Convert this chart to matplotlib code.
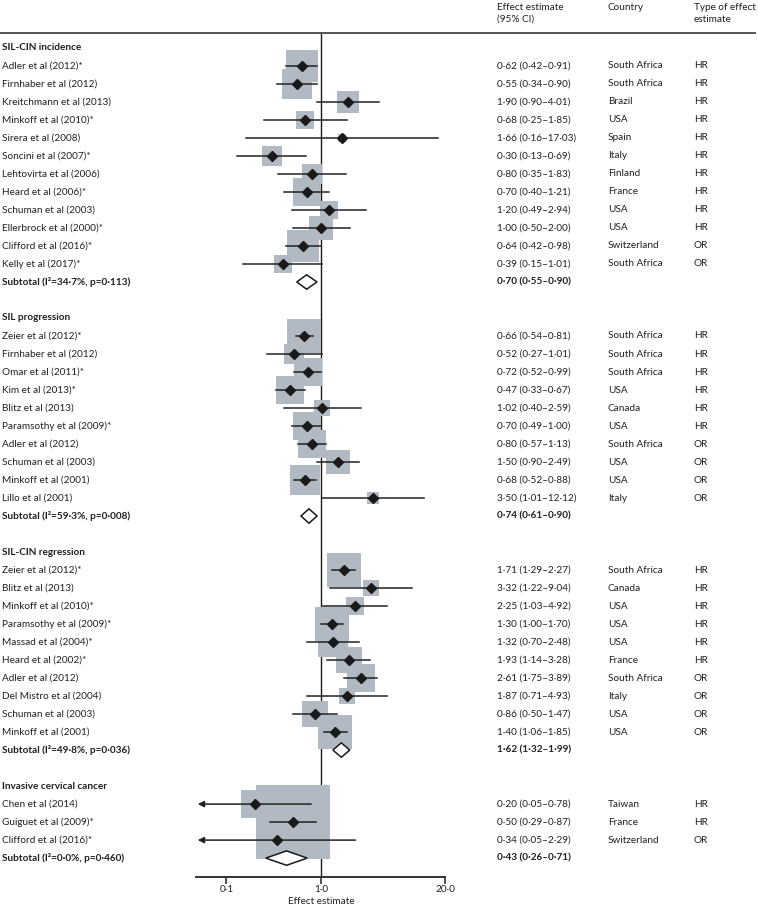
import matplotlib
matplotlib.use("Agg")
import matplotlib.pyplot as plt
from matplotlib.lines import Line2D
from matplotlib.patches import Polygon
from matplotlib.transforms import blended_transform_factory
import numpy as np

plt.rcParams['font.family'] = ['Lato', 'DejaVu Sans']

# ---- data ----
group_titles = ["SIL-CIN incidence", "SIL progression", "SIL-CIN regression", "Invasive cervical cancer"]

inc_names = ["Adler et al (2012)*", "Firnhaber et al (2012)", "Kreitchmann et al (2013)", "Minkoff et al (2010)*",
             "Sirera et al (2008)", "Soncini et al (2007)*", "Lehtovirta et al (2006)", "Heard et al (2006)*",
             "Schuman et al (2003)", "Ellerbrock et al (2000)*", "Clifford et al (2016)*", "Kelly et al (2017)*"]
inc_est = [0.62, 0.55, 1.90, 0.68, 1.66, 0.30, 0.80, 0.70, 1.20, 1.00, 0.64, 0.39]
inc_lo = [0.42, 0.34, 0.90, 0.25, 0.16, 0.13, 0.35, 0.40, 0.49, 0.50, 0.42, 0.15]
inc_hi = [0.91, 0.90, 4.01, 1.85, 17.03, 0.69, 1.83, 1.21, 2.94, 2.00, 0.98, 1.01]
inc_country = ["South Africa", "South Africa", "Brazil", "USA", "Spain", "Italy", "Finland", "France",
               "USA", "USA", "Switzerland", "South Africa"]
inc_type = ["HR"] * 10 + ["OR"] * 2
inc_weight = [10.2, 9.0, 4.8, 3.2, 0.5, 4.4, 4.4, 8.4, 3.6, 5.3, 10.2, 3.2]
inc_sub = (0.70, 0.55, 0.90)
inc_i2, inc_p = "34·7%", "0·113"

prog_names = ["Zeier et al (2012)*", "Firnhaber et al (2012)", "Omar et al (2011)*", "Kim et al (2013)*",
              "Blitz et al (2013)", "Paramsothy et al (2009)*", "Adler et al (2012)", "Schuman et al (2003)",
              "Minkoff et al (2001)", "Lillo et al (2001)"]
prog_est = [0.66, 0.52, 0.72, 0.47, 1.02, 0.70, 0.80, 1.50, 0.68, 3.50]
prog_lo = [0.54, 0.27, 0.52, 0.33, 0.40, 0.49, 0.57, 0.90, 0.52, 1.01]
prog_hi = [0.81, 1.01, 0.99, 0.67, 2.59, 1.00, 1.13, 2.49, 0.88, 12.12]
prog_country = ["South Africa", "South Africa", "South Africa", "USA", "Canada", "USA", "South Africa",
                "USA", "USA", "Italy"]
prog_type = ["HR"] * 6 + ["OR"] * 4
prog_weight = [10.9, 4.0, 8.4, 7.8, 2.6, 8.4, 7.8, 5.8, 9.6, 1.4]
prog_sub = (0.74, 0.61, 0.90)
prog_i2, prog_p = "59·3%", "0·008"

reg_names = ["Zeier et al (2012)*", "Blitz et al (2013)", "Minkoff et al (2010)*", "Paramsothy et al (2009)*",
             "Massad et al (2004)*", "Heard et al (2002)*", "Adler et al (2012)", "Del Mistro et al (2004)",
             "Schuman et al (2003)", "Minkoff et al (2001)"]
reg_est = [1.71, 3.32, 2.25, 1.30, 1.32, 1.93, 2.61, 1.87, 0.86, 1.40]
reg_lo = [1.29, 1.22, 1.03, 1.00, 0.70, 1.14, 1.75, 0.71, 0.50, 1.06]
reg_hi = [2.27, 9.04, 4.92, 1.70, 2.48, 3.28, 3.89, 4.93, 1.47, 1.85]
reg_country = ["South Africa", "Canada", "USA", "USA", "USA", "France", "South Africa", "Italy", "USA", "USA"]
reg_type = ["HR"] * 6 + ["OR"] * 4
reg_weight = [10.9, 2.3, 3.6, 11.6, 9.6, 6.3, 8.4, 2.6, 6.3, 10.9]
reg_sub = (1.62, 1.32, 1.99)
reg_i2, reg_p = "49·8%", "0·036"

inv_names = ["Chen et al (2014)", "Guiguet et al (2009)*", "Clifford et al (2016)*"]
inv_est = [0.20, 0.50, 0.34]
inv_lo = [0.05, 0.29, 0.05]
inv_hi = [0.78, 0.87, 2.29]
inv_country = ["Taiwan", "France", "Switzerland"]
inv_type = ["HR", "HR", "OR"]
inv_weight = [8.4, 53.3, 8.0]
inv_sub = (0.43, 0.26, 0.71)
inv_i2, inv_p = "0·0%", "0·460"

groups = [
    (inc_names, inc_est, inc_lo, inc_hi, inc_country, inc_type, inc_weight, inc_sub, inc_i2, inc_p),
    (prog_names, prog_est, prog_lo, prog_hi, prog_country, prog_type, prog_weight, prog_sub, prog_i2, prog_p),
    (reg_names, reg_est, reg_lo, reg_hi, reg_country, reg_type, reg_weight, reg_sub, reg_i2, reg_p),
    (inv_names, inv_est, inv_lo, inv_hi, inv_country, inv_type, inv_weight, inv_sub, inv_i2, inv_p),
]

x_ticks = [0.1, 1.0, 20.0]
x_tick_labels = ["0·1", "1·0", "20·0"]


def fmt_ci(e, l, h):
    return f"{e:.2f} ({l:.2f}–{h:.2f})".replace(".", "·")


# ---- layout ----
W, H = 758, 908
fig = plt.figure(figsize=(W / 100, H / 100), dpi=100)
ax = fig.add_axes([196 / W, 1 - 877 / H, 249 / W, (877 - 33) / H])
ax.set_xscale("log")
ax.set_xlim(0.0479, 20)

TXT = "#231f20"
SQ = "#b1bac2"
FS = 7.2
trans = blended_transform_factory(fig.transFigure, ax.transData)
col_ci, col_country, col_type = 497 / W, 608 / W, 694 / W

row = 0
for gi, (names, est, lo, hi, country, typ, weight, sub, i2, p) in enumerate(groups):
    ax.text(2 / W, row, group_titles[gi], transform=trans, va="center", ha="left", fontsize=FS,
            fontweight="bold", color=TXT)
    for k in range(len(names)):
        r = row + 1 + k
        side = 10 * np.sqrt(weight[k]) * 0.72  # px -> pt
        ax.plot(est[k], r, marker="s", markersize=side, color=SQ, markeredgewidth=0, zorder=2)
        if lo[k] <= 0.05:
            # CI runs off the left edge -> arrow
            ax.annotate("", xy=(lo[k], r), xytext=(hi[k], r),
                        arrowprops=dict(arrowstyle="-|>", mutation_scale=9, lw=1.1, color="#222222",
                                        shrinkA=0, shrinkB=0), zorder=3)
        else:
            ax.plot([lo[k], hi[k]], [r, r], color="#222222", lw=1.1, zorder=3)
        ax.plot(est[k], r, marker="D", markersize=5.2, color="#1a1a1a", zorder=4)
        ax.text(2 / W, r, names[k], transform=trans, va="center", ha="left", fontsize=FS, color=TXT)
        ax.text(col_ci, r, fmt_ci(est[k], lo[k], hi[k]), transform=trans, va="center", fontsize=FS, color=TXT)
        ax.text(col_country, r, country[k], transform=trans, va="center", fontsize=FS, color=TXT)
        ax.text(col_type, r, typ[k], transform=trans, va="center", fontsize=FS, color=TXT)
    r = row + len(names) + 1
    e, l, h = sub
    dh = 0.4
    ax.add_patch(Polygon([(l, r), (e, r - dh), (h, r), (e, r + dh)], closed=True,
                         facecolor="white", edgecolor="#1a1a1a", lw=1.1, zorder=5))
    ax.text(2 / W, r, f"Subtotal (I²={i2}, p={p})", transform=trans, va="center", fontsize=FS,
            fontweight="bold", color=TXT)
    ax.text(col_ci, r, fmt_ci(e, l, h), transform=trans, va="center", fontsize=FS, fontweight="bold", color=TXT)
    row = r + 2

ax.set_ylim(row - 1 + 0.05, -0.83)
ax.axvline(1.0, color="#1a1a1a", lw=1.0, zorder=1)

for s in ["top", "left", "right"]:
    ax.spines[s].set_visible(False)
ax.spines["bottom"].set_linewidth(1.4)
ax.spines["bottom"].set_color("#333333")
ax.set_yticks([])
ax.set_xticks(x_ticks)
ax.set_xticklabels(x_tick_labels, fontsize=FS, color=TXT)
ax.xaxis.set_minor_locator(matplotlib.ticker.NullLocator())
ax.tick_params(axis="x", length=5, width=1.2, color="#333333", pad=1)
fig.text(321 / W, 1 - 901 / H, "Effect estimate", ha="center", va="center", fontsize=FS, color=TXT)

# header
fig.add_artist(Line2D([0, 755 / W], [1 - 33 / H] * 2, transform=fig.transFigure, color="#555555", lw=1.4))
for txt, x, y in [("Effect estimate", col_ci, 7), ("(95% CI)", col_ci, 19), ("Country", col_country, 7),
                  ("Type of effect", col_type, 7), ("estimate", col_type, 19)]:
    fig.text(x, 1 - y / H, txt, va="center", ha="left", fontsize=FS, color=TXT)

fig.savefig("out.png", dpi=100)
